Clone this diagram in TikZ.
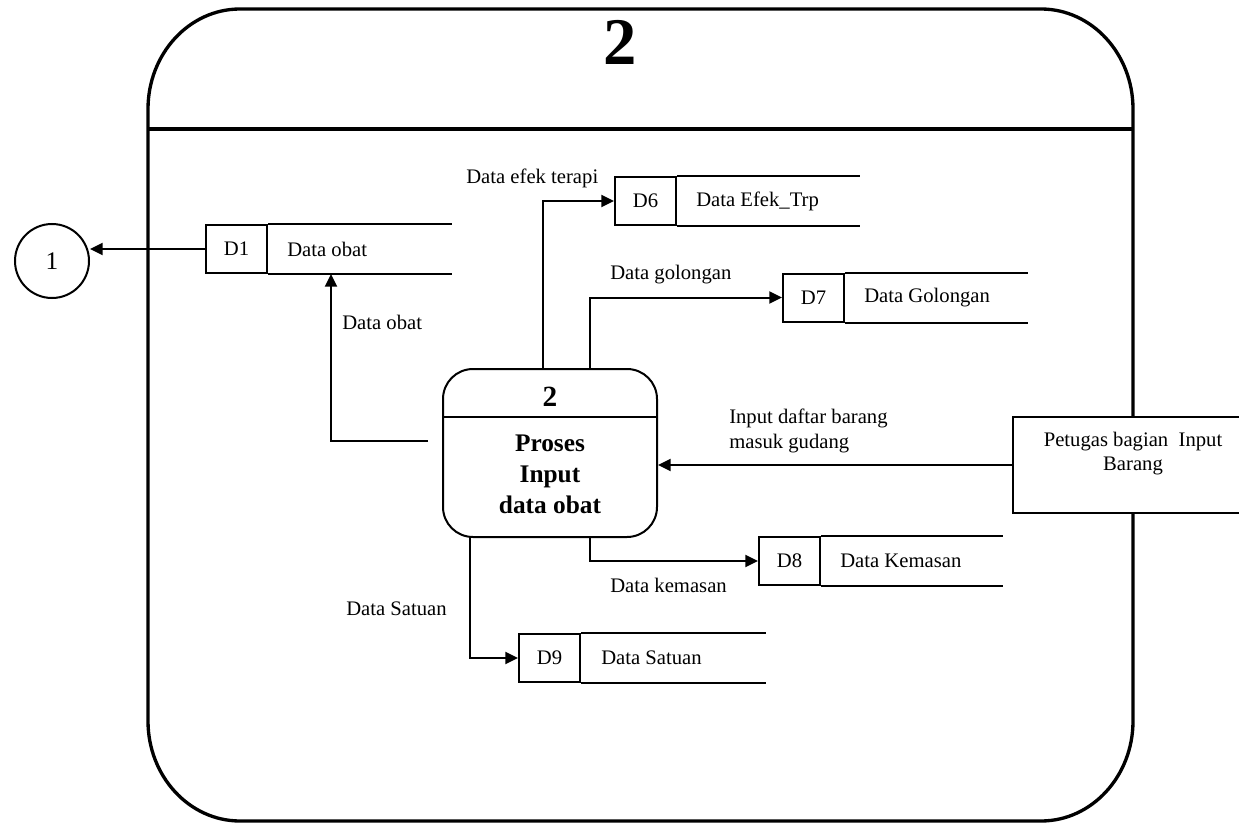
\documentclass[tikz,border=0pt]{standalone}
\usepackage{fontspec}
\setmainfont{Liberation Serif}
\usetikzlibrary{arrows.meta,calc}
\begin{document}
\begin{tikzpicture}[x=0.75pt,y=-0.75pt,
  every node/.style={font=\fontsize{15.5}{18}\selectfont, inner sep=0pt},
  ln/.style={line width=1.5pt},
  arr/.style={ln,-{Triangle[length=9.5pt,width=9pt]}},
  idbox/.style={draw,ln,minimum width=45.75pt,minimum height=36pt,anchor=west},
  lbl/.style={anchor=west},
  frame/.style={line width=2.5pt},
  procbox/.style={draw,ln,rounded corners=22.5pt,minimum width=160.5pt,minimum height=126pt},
  extbox/.style={draw,ln,fill=white,minimum width=180pt,minimum height=72pt}]
\useasboundingbox (0,0) rectangle (1239,824);
% outer frame
\draw[frame] (148,109) .. controls (148,53.8) and (189.2,9) .. (240,9) -- (1041,9)
  .. controls (1091.8,9) and (1133,53.8) .. (1133,109) -- (1133,721)
  .. controls (1133,776.2) and (1091.8,821) .. (1041,821) -- (240,821)
  .. controls (189.2,821) and (148,776.2) .. (148,721) -- cycle;
\draw[line width=3.5pt] (148,129) -- (1133,129);
\node[font=\fontsize{50}{50}\selectfont\bfseries] (title) at (620,42) {2};

% data stores
\node[idbox] (d1) at (205,249) {D1};
\draw[ln] (d1.north east) -- ++(184,0) (d1.south east) -- ++(184,0);
\node[lbl] (d1t) at ($(d1.east)+(19,0)$) {Data obat};

\node[idbox] (d6) at (614,201) {D6};
\draw[ln] (d6.north east) -- ++(183,0) (d6.south east) -- ++(183,0);
\node[lbl] (d6t) at ($(d6.east)+(19,0)$) {Data Efek\_Trp};

\node[idbox] (d7) at (782,297.5) {D7};
\draw[ln] (d7.north east) -- ++(183,0) (d7.south east) -- ++(183,0);
\node[lbl] (d7t) at ($(d7.east)+(19,0)$) {Data Golongan};

\node[idbox] (d8) at (758,561) {D8};
\draw[ln] (d8.north east) -- ++(182,0) (d8.south east) -- ++(182,0);
\node[lbl] (d8t) at ($(d8.east)+(19,0)$) {Data Kemasan};

\node[idbox] (d9) at (518,658) {D9};
\draw[ln] (d9.north east) -- ++(185,0) (d9.south east) -- ++(185,0);
\node[lbl] (d9t) at ($(d9.east)+(20,0)$) {Data Satuan};

% process
\node[procbox] (p) at (550,453) {};
\draw[ln] ($(p.west)+(0,-36)$) -- ($(p.east)+(0,-36)$);
\node[font=\fontsize{22}{24}\selectfont\bfseries] (pnum) at ($(p.center)+(0,-56)$) {2};
\node[align=center,font=\fontsize{19}{23.25}\selectfont\bfseries] (pname) at ($(p.center)+(0,21)$) {Proses\\Input\\data obat};

% external entity
\node[extbox] (pet) at (1133,465) {};
\node[align=center] (pett) at ($(pet.center)+(0,-11)$) {Petugas bagian\ \ Input\\Barang};

% connector 1
\node[draw,ln,circle,minimum size=55.5pt,font=\fontsize{19}{20}\selectfont] (c1) at (52,261) {1};

% flows
\draw[arr] (d1.west) -- (d1.west -| c1.east);
\coordinate (pl) at ($(p.west)+(-14,-12)$);
\draw[arr] (pl) -| ($(d1.south east)+(63,0)$);
\draw[arr] ($(p.north)+(-7,0)$) |- (d6.west);
\draw[arr] ($(p.north)+(40,0)$) |- (d7.west);
\draw[arr] (pet.west) -- (pet.west -| p.east);
\draw[arr] ($(p.south)+(40,0)$) |- (d8.west);
\draw[arr] ($(p.south)+(-80,0)$) |- (d9.west);

% flow labels
\node[lbl] (l1) at (342,322) {Data obat};
\node[lbl] (l2) at (466,178) {Data efek terapi};
\node[lbl] (l3) at (610,275) {Data golongan};
\node[lbl,align=left,font=\fontsize{15.5}{18.75}\selectfont] (l4) at (729,431) {Input daftar barang\\masuk gudang};
\node[lbl] (l5) at (610,585) {Data kemasan};
\node[lbl] (l6) at (346,609) {Data Satuan};
\end{tikzpicture}
\end{document}
